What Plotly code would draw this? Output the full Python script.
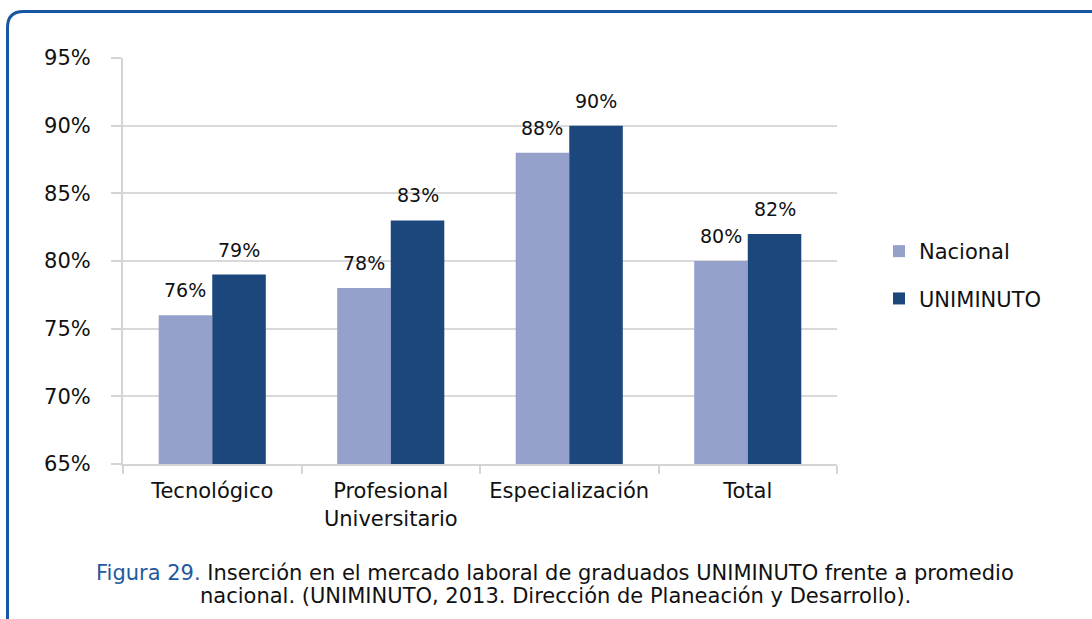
import plotly.graph_objects as go

categories = ["Tecnológico", "Profesional<br>Universitario", "Especialización", "Total"]
nacional = [76, 78, 88, 80]
uniminuto = [79, 83, 90, 82]
series_names = ["Nacional", "UNIMINUTO"]
y_ticks = [65, 70, 75, 80, 85, 90, 95]
y_tick_labels = [f"{v}%" for v in y_ticks]
caption_lead = "Figura 29."
caption_line1 = "Inserción en el mercado laboral de graduados UNIMINUTO frente a promedio"
caption_line2 = "nacional. (UNIMINUTO, 2013. Dirección de Planeación y Desarrollo)."

W, H = 1092, 619
L, R, T, B = 123, 837, 58, 464


def px(x):
    return (x - L) / (R - L)


def py(y):
    return (B - y) / (B - T)


colors = ["#95a0cb", "#1b477c"]
fig = go.Figure()
for name, vals, col, grp in [(series_names[0], nacional, colors[0], "a"),
                             (series_names[1], uniminuto, colors[1], "b")]:
    fig.add_trace(go.Bar(
        x=categories, y=vals, name=name, legendgroup=grp,
        marker=dict(color=col, line=dict(width=0)),
    ))

annotations = []
bar_px = (R - L) / len(categories) * 0.6 / 2
for vals, shift in [(nacional, -bar_px / 2), (uniminuto, bar_px / 2)]:
    for c, v in zip(categories, vals):
        annotations.append(dict(
            x=c, y=v, xref="x", yref="y", xshift=shift, yshift=25,
            xanchor="center", yanchor="middle", showarrow=False,
            text=f"{v}%", font=dict(family="DejaVu Sans", size=19, color="#111111"),
        ))

annotations.append(dict(
    xref="paper", yref="paper", x=px(555), y=py(573), xanchor="center", yanchor="middle",
    showarrow=False,
    text=f"<span style='color:#1f5a9e'>{caption_lead}</span> {caption_line1}",
    font=dict(family="DejaVu Sans", size=21, color="#111111"),
))
annotations.append(dict(
    xref="paper", yref="paper", x=px(555), y=py(596), xanchor="center", yanchor="middle",
    showarrow=False, text=caption_line2,
    font=dict(family="DejaVu Sans", size=21, color="#111111"),
))

# rounded border frame
r = 16
x0, y0 = 7.5, 11.5
path = (f"M {px(x0)},{py(H + 10)} L {px(x0)},{py(y0 + r)} "
        f"Q {px(x0)},{py(y0)} {px(x0 + r)},{py(y0)} L {px(W + 10)},{py(y0)}")

fig.update_layout(
    width=W, height=H,
    margin=dict(l=L, r=W - R, t=T, b=H - B, pad=0),
    paper_bgcolor="white", plot_bgcolor="white",
    barmode="group", bargap=0.4, bargroupgap=0,
    font=dict(family="DejaVu Sans", color="#111111"),
    showlegend=True,
    legend=dict(x=px(879), y=py(275), xanchor="left", yanchor="middle",
                font=dict(size=21, family="DejaVu Sans", color="#111111"),
                tracegroupgap=17, traceorder="grouped", bgcolor="rgba(0,0,0,0)"),
    xaxis=dict(showline=True, linecolor="#d4d4d4", linewidth=2,
               ticks="outside", tickson="boundaries", ticklen=8, tickcolor="#d4d4d4",
               tickwidth=2, tickfont=dict(size=21, family="DejaVu Sans", color="#111111"),
               ticklabelstandoff=7, showgrid=False),
    yaxis=dict(range=[65, 95], tickvals=y_ticks, ticktext=y_tick_labels,
               showline=True, linecolor="#d4d4d4", linewidth=2,
               ticks="outside", ticklen=10, tickcolor="#d4d4d4", tickwidth=2,
               showgrid=True, gridcolor="#d9d9d9", gridwidth=2,
               tickfont=dict(size=21, family="DejaVu Sans", color="#111111"),
               ticklabelstandoff=16, zeroline=False),
    shapes=[dict(type="path", xref="paper", yref="paper", path=path,
                 line=dict(color="#1656a3", width=3), layer="above")],
    annotations=annotations,
)

fig.write_html("out.html", config={"displayModeBar": False},
               post_script="document.body.style.margin='0';")
